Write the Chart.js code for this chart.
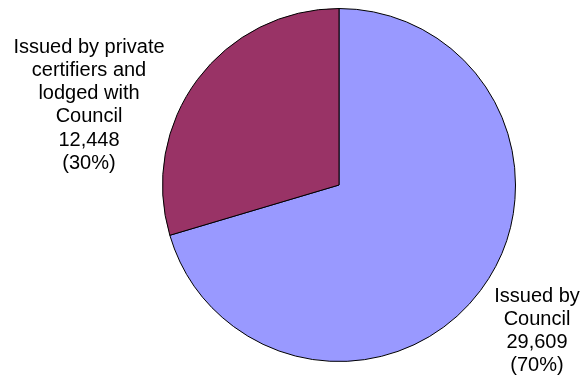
<!DOCTYPE html>
<html>
<head>
<meta charset="utf-8">
<script src="https://cdn.jsdelivr.net/npm/chart.js@4"></script>
<style>
  html, body { margin: 0; padding: 0; background: #fff; }
  #wrap { width: 586px; height: 378px; }
</style>
</head>
<body>
<div id="wrap"><canvas id="pie"></canvas></div>
<script>
const categories = ['Issued by Council', 'Issued by private certifiers and lodged with Council'];
const counts = [29609, 12448];
const colors = ['#9999FF', '#993366'];
// label lines shown beside each slice
const labelLines = [
    ['Issued by', 'Council'],
    ['Issued by private', 'certifiers and', 'lodged with', 'Council']
];
// where each label block sits: centre x, first line centre y
const labelAnchors = [
    { x: 537, y: 296 },
    { x: 89, y: 47 }
];

const total = counts.reduce((a, b) => a + b, 0);

const sliceLabels = {
    id: 'sliceLabels',
    afterDraw(chart) {
        const ctx = chart.ctx;
        ctx.save();
        ctx.font = '20px "Liberation Sans", Arial, sans-serif';
        ctx.fillStyle = '#000';
        ctx.textAlign = 'center';
        ctx.textBaseline = 'middle';
        counts.forEach((v, i) => {
            const lines = labelLines[i].concat([
                v.toLocaleString('en-US'),
                '(' + Math.round(v / total * 100) + '%)'
            ]);
            const a = labelAnchors[i];
            lines.forEach((t, k) => ctx.fillText(t, a.x, a.y + k * 23.3));
        });
        ctx.restore();
    }
};

new Chart(document.getElementById('pie'), {
    type: 'pie',
    data: {
        labels: categories,
        datasets: [{
            data: counts,
            backgroundColor: colors,
            borderColor: '#000',
            borderWidth: 1
        }]
    },
    options: {
        responsive: true,
        maintainAspectRatio: false,
        animation: false,
        layout: { padding: { left: 160, right: 68, top: 8, bottom: 16 } },
        plugins: {
            legend: { display: false },
            tooltip: { enabled: false }
        }
    },
    plugins: [sliceLabels]
});
</script>
</body>
</html>
